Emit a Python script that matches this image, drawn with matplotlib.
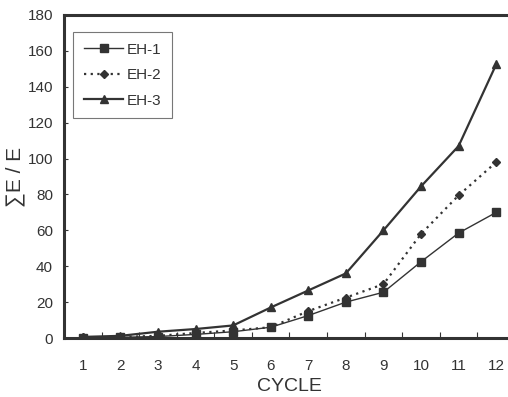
import matplotlib
matplotlib.use("Agg")
import matplotlib.pyplot as plt

cycles = [1, 2, 3, 4, 5, 6, 7, 8, 9, 10, 11, 12]
eh1 = [0.2, 0.4, 0.8, 2.0, 3.5, 6.0, 12.5, 20.0, 25.5, 42.5, 58.5, 70.0]
eh2 = [0.4, 0.6, 1.2, 2.8, 4.2, 6.0, 15.0, 22.5, 30.0, 58.0, 79.5, 98.0]
eh3 = [0.6, 1.2, 3.5, 5.0, 7.0, 17.0, 26.5, 36.0, 60.0, 84.5, 107.0, 152.5]
yticks = [0, 20, 40, 60, 80, 100, 120, 140, 160, 180]

plt.rcParams['font.family'] = ['Liberation Sans', 'DejaVu Sans']
col = '#333333'

fig = plt.figure(figsize=(5.08, 3.97), dpi=100)
ax = fig.add_axes([64/508, 1-338/397, 451/508, 323/397])

ax.plot(cycles, eh1, color=col, lw=1.0, marker='s', ms=6, label='EH-1')
ax.plot(cycles, eh2, color=col, lw=1.6, ls=(0, (1, 2)), marker='D', ms=4.5, label='EH-2')
ax.plot(cycles, eh3, color=col, lw=1.6, marker='^', ms=6, label='EH-3')

ax.set_xlim(0.5, 12.5)
ax.set_ylim(0, 180)
ax.set_xticks(cycles)
ax.set_xticks([c + 0.5 for c in cycles[:-1]], minor=True)
ax.set_yticks(yticks)
ax.tick_params(axis='x', which='major', length=0, labelsize=11, colors=col, pad=15)
ax.tick_params(axis='x', which='minor', direction='in', length=4, width=0.8, color=col)
ax.tick_params(axis='y', direction='in', length=3, width=0.8, labelsize=11, colors=col, pad=8)
for s in ax.spines.values():
    s.set_linewidth(2.2)
    s.set_color(col)

ax.set_xlabel('CYCLE', fontsize=14, color=col, labelpad=4)
ax.set_ylabel('\u2211E / E', fontsize=15, color=col, labelpad=2)

leg = ax.legend(loc='upper left', bbox_to_anchor=(9/451, (338-32)/323), fontsize=11,
                frameon=True, fancybox=False, edgecolor='#555555', borderaxespad=0,
                handlelength=2.6, handletextpad=0.2, labelspacing=0.75, borderpad=0.7)
leg.get_frame().set_linewidth(0.8)
for t in leg.get_texts():
    t.set_color(col)

fig.savefig('out.png', dpi=100)
